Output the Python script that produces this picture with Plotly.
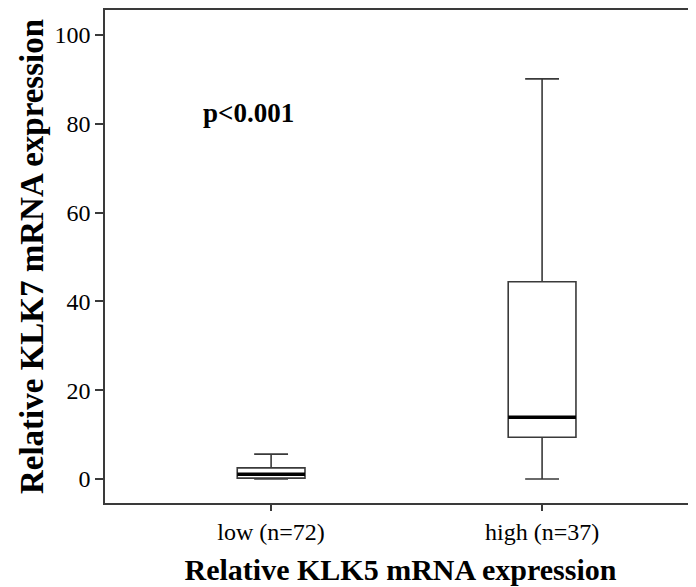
import plotly.graph_objects as go

categories = ["low (n=72)", "high (n=37)"]
lower_fence = [0.0, 0.0]
q1 = [0.2, 9.4]
median = [1.1, 13.9]
q3 = [2.5, 44.4]
upper_fence = [5.6, 90.1]
positions = [0, 1]
y_ticks = [0, 20, 40, 60, 80, 100]

LINE = "#3a3a3a"
FONT = "Liberation Serif"
BOX_W = 0.25

fig = go.Figure()
fig.add_trace(go.Box(
    x=positions, q1=q1, median=median, q3=q3,
    lowerfence=lower_fence, upperfence=upper_fence,
    width=BOX_W, whiskerwidth=0.5,
    line=dict(color=LINE, width=1.6),
    fillcolor="rgba(255,255,255,0)",
    boxpoints=False, showlegend=False, hoverinfo="skip",
))
# thick median lines
for xp, m in zip(positions, median):
    fig.add_trace(go.Scatter(
        x=[xp - BOX_W / 2, xp + BOX_W / 2], y=[m, m], mode="lines",
        line=dict(color="black", width=3.5), showlegend=False, hoverinfo="skip",
    ))

fig.add_annotation(
    x=-0.085, y=82.5, xref="x", yref="y", text="<b>p<0.001</b>", showarrow=False,
    xanchor="center", yanchor="middle", font=dict(family=FONT, size=27, color="black"),
)

fig.update_layout(
    width=688, height=579,
    margin=dict(l=97, r=0, t=0, b=84),
    paper_bgcolor="white", plot_bgcolor="white",
    font=dict(family=FONT, color="black"),
    xaxis=dict(
        range=[-0.613, 1.568], tickvals=positions, ticktext=categories,
        showline=True, linecolor=LINE, linewidth=1.6, mirror=True,
        ticks="outside", ticklen=6, tickcolor=LINE, tickwidth=1.6,
        showgrid=False, zeroline=False, tickfont=dict(family=FONT, size=24, color="black"),
        title=dict(text="<b>Relative KLK5 mRNA expression</b>", font=dict(family=FONT, size=30, color="black"), standoff=15),
    ),
    yaxis=dict(
        range=[-5.4, 105.6], tickvals=y_ticks,
        showline=True, linecolor=LINE, linewidth=1.6, mirror=False,
        ticks="outside", ticklen=8, tickcolor=LINE, tickwidth=1.6,
        showgrid=False, zeroline=False, tickfont=dict(family=FONT, size=24, color="black"),
        title=dict(text="<b>Relative KLK7 mRNA expression</b>", font=dict(family=FONT, size=33, color="black"), standoff=1),
    ),
)

fig.write_html("out.html")
